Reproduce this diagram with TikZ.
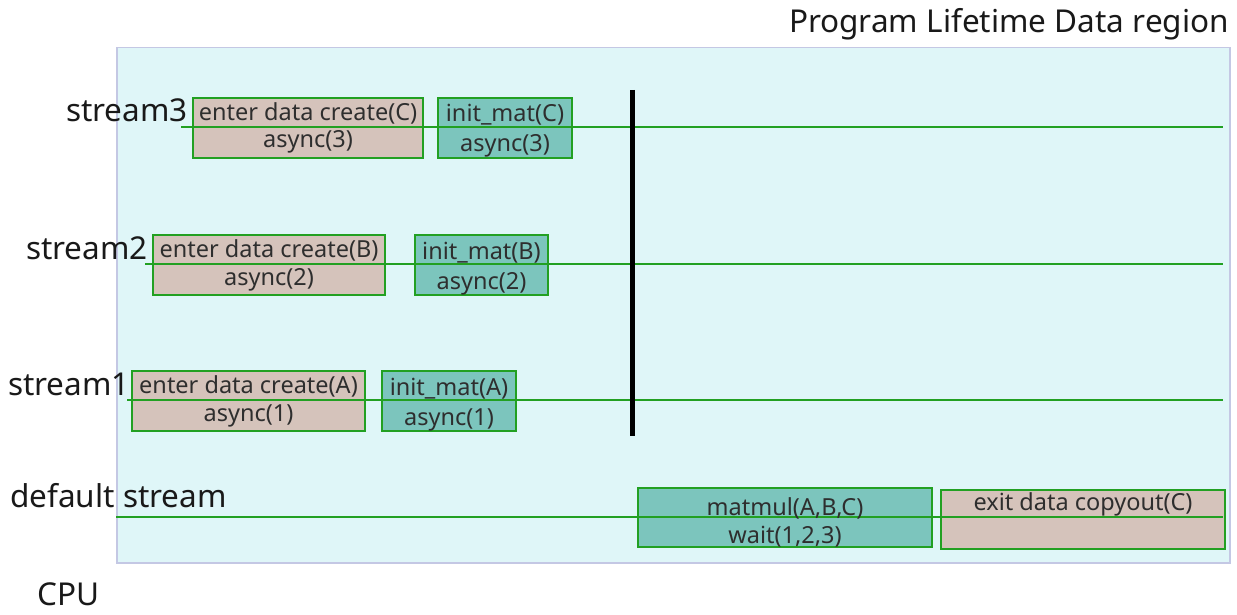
\documentclass[tikz,border=0pt]{standalone}
\usepackage{fontspec}
\setmainfont{Noto Sans}
\begin{document}
\begin{tikzpicture}[x=1pt,y=-1pt,
  region/.style={draw=lavline,fill=regionfill,line width=1.5pt},
  opbox/.style={draw=boxgreen,line width=2pt,anchor=north west,inner sep=0pt},
  createbox/.style={opbox,fill=rosefill},
  kernbox/.style={opbox,fill=tealfill},
  optext/.style={anchor=base,inner sep=0pt,font=\fontsize{23.5}{28}\selectfont,text=black!82},
  sline/.style={draw=boxgreen,line width=1.6pt},
  lbl/.style={font=\fontsize{31.5}{34}\selectfont,inner sep=0pt,text=black!90},
  barline/.style={line width=5pt,draw=black}]
\definecolor{regionfill}{HTML}{DFF6F8}
\definecolor{lavline}{HTML}{C4C8E4}
\definecolor{boxgreen}{HTML}{22A022}
\definecolor{rosefill}{HTML}{D5C3BB}
\definecolor{tealfill}{HTML}{7CC5BD}
\useasboundingbox (0,0) rectangle (1237,615);
\node[region,minimum width=1113pt,minimum height=515pt,anchor=north west,inner sep=0pt] (reg) at (116,47) {};
\node[lbl,anchor=base east] (title) at (1229,33) {Program Lifetime Data region};
% boxes
\node[createbox,minimum width=230pt,minimum height=60pt] (c3) at (192,97) {};
\node[kernbox,minimum width=134pt,minimum height=60pt] (i3) at (437,97) {};
\node[createbox,minimum width=232pt,minimum height=60pt] (c2) at (152,234) {};
\node[kernbox,minimum width=133pt,minimum height=60pt] (i2) at (414,234) {};
\node[createbox,minimum width=233pt,minimum height=60pt] (c1) at (131,370) {};
\node[kernbox,minimum width=134pt,minimum height=60pt] (i1) at (381,370) {};
\node[kernbox,minimum width=294pt,minimum height=59pt] (mm) at (637,487) {};
\node[createbox,minimum width=284pt,minimum height=59pt] (ex) at (940,489) {};
% stream lines
\coordinate (s3a) at (181,127); \coordinate (s3b) at (1223,127);
\coordinate (s2a) at (145,264); \coordinate (s2b) at (1223,264);
\coordinate (s1a) at (127,400); \coordinate (s1b) at (1223,400);
\coordinate (s0a) at (116,517); \coordinate (s0b) at (1223,517);
\draw[sline] (s3a) -- (s3b);
\draw[sline] (s2a) -- (s2b);
\draw[sline] (s1a) -- (s1b);
\draw[sline] (s0a) -- (s0b);
% box texts
\node[optext] (c3t) at ([yshift=-24pt]c3.north) {enter data create(C)};
\node[optext] (c3b) at ([yshift=-51pt]c3.north) {async(3)};
\node[optext] (i3t) at ([yshift=-25pt]i3.north) {init\_mat(C)};
\node[optext] (i3b) at ([yshift=-55pt]i3.north) {async(3)};
\node[optext] (c2t) at ([yshift=-23pt]c2.north) {enter data create(B)};
\node[optext] (c2b) at ([yshift=-51pt]c2.north) {async(2)};
\node[optext] (i2t) at ([yshift=-25pt]i2.north) {init\_mat(B)};
\node[optext] (i2b) at ([yshift=-55pt]i2.north) {async(2)};
\node[optext] (c1t) at ([yshift=-23pt]c1.north) {enter data create(A)};
\node[optext] (c1b) at ([yshift=-51pt]c1.north) {async(1)};
\node[optext] (i1t) at ([yshift=-25pt]i1.north) {init\_mat(A)};
\node[optext] (i1b) at ([yshift=-55pt]i1.north) {async(1)};
\node[optext] (mmt) at ([yshift=-28pt]mm.north) {matmul(A,B,C)};
\node[optext] (mmb) at ([yshift=-56pt]mm.north) {wait(1,2,3)};
\node[optext] (ext) at ([yshift=-21pt]ex.north) {exit data copyout(C)};
% barrier
\coordinate (bt) at (632,90); \coordinate (bb) at (632,436);
\draw[barline] (bt) -- (bb);
% labels
\node[lbl,anchor=base east] (l3) at (188,122) {stream3};
\node[lbl,anchor=base east] (l2) at (148,259) {stream2};
\node[lbl,anchor=base east] (l1) at (130,395) {stream1};
\node[lbl,anchor=base west] (l0) at (10,507) {default stream};
\node[lbl,anchor=base west] (cpu) at (37,605) {CPU};
\end{tikzpicture}
\end{document}
